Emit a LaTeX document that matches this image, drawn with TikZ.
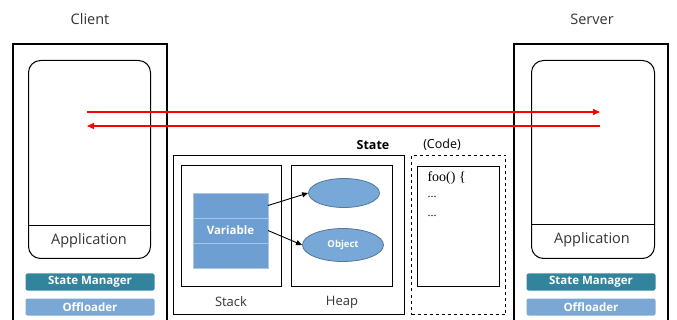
\documentclass[tikz,border=0pt]{standalone}
\usepackage{fontspec}
\setmainfont{Open Sans}
\newfontfamily\codefont{Liberation Serif}
\usetikzlibrary{arrows.meta,positioning,calc,shapes.geometric}
\definecolor{smteal}{HTML}{31849B}
\definecolor{offblue}{HTML}{7BA7D4}
\definecolor{varblue}{HTML}{6E9FD2}
\definecolor{objblue}{HTML}{78A8D8}
\definecolor{msgred}{HTML}{FF0000}
\tikzset{
  host/.style={draw,line width=1.4pt},
  appbox/.style={draw,line width=1pt,rounded corners=12pt,minimum width=#1,minimum height=198pt,anchor=north west,inner sep=0pt},
  bar/.style={rounded corners=2pt,fill=#1,minimum width=129pt,minimum height=17pt,inner sep=0pt,text=white,font=\fontsize{11.5}{13}\selectfont\bfseries},
  frame/.style={draw,line width=1pt,anchor=north west,inner sep=0pt},
  cell/.style={draw=varblue!60!white,fill=varblue,minimum width=75pt,minimum height=25pt,inner sep=0pt,line width=0.8pt,outer sep=0pt},
  obj/.style={ellipse,draw=objblue!70!black,fill=objblue,line width=0.8pt,inner sep=0pt},
  msg/.style={draw=msgred,line width=1.3pt,-{Triangle[length=7pt,width=6pt]}},
  ptr/.style={line width=0.9pt,-{Triangle[length=6pt,width=5pt]}},
  lbl/.style={text=black!80,font=\fontsize{13}{15}\selectfont},
}
\begin{document}
\begin{tikzpicture}[x=1pt,y=-1pt]
 \useasboundingbox (0,0) rectangle (677,320);
 % ---- client
 \node[lbl,font=\fontsize{14.5}{16}\selectfont] (clientlbl) at (90,19) {Client};
 \draw[host] (13,321) |- (167,44) -- (167,321);
 \node[appbox=122pt] (capp) at (28,60) {};
 \draw[line width=1pt] (28,226) -- (150,226);
 \node[lbl,font=\fontsize{14.5}{16}\selectfont] (capptxt) at (89,241) {Application};
 \node[bar=smteal] (csm) at (90,282) {State Manager};
 \node[bar=offblue] (coff) at (90,307) {Offloader};
 % ---- server
 \node[lbl,font=\fontsize{14.5}{16}\selectfont] (serverlbl) at (592,19) {Server};
 \draw[host] (514,321) |- (668,44) -- (668,321);
 \node[appbox=123pt] (sapp) at (531,60) {};
 \draw[line width=1pt] (531,225) -- (654,225);
 \node[lbl,font=\fontsize{14.5}{16}\selectfont] (sapptxt) at (592,240) {Application};
 \node[bar=smteal] (ssm) at (591,282) {State Manager};
 \node[bar=offblue] (soff) at (591,307) {Offloader};
 % ---- offload / return
 \coordinate (cout) at (87,112); \coordinate (sin) at (600,112);
 \coordinate (sout) at (600,126); \coordinate (cin) at (87,126);
 \draw[msg] (cout) -- (sin);
 \draw[msg] (sout) -- (cin);
 % ---- state
 \node[frame,minimum width=231pt,minimum height=159pt] (state) at (173,155) {};
 \node[lbl,font=\fontsize{12.5}{14}\selectfont\bfseries,text=black] (statelbl) at (373,145) {State};
 \node[frame,minimum width=100pt,minimum height=121pt] (stack) at (181,165) {};
 \node[frame,minimum width=101pt,minimum height=121pt] (heap) at (291,165) {};
 \node[lbl] (stacklbl) at (231,302) {Stack};
 \node[lbl] (heaplbl) at (342,302) {Heap};
 \node[cell] (v1) at (230.5,205.5) {};
 \node[cell,below=0pt of v1,text=white,font=\fontsize{11.5}{13}\selectfont\bfseries] (v2) {Variable};
 \node[cell,below=0pt of v2] (v3) {};
 \node[obj,minimum width=71pt,minimum height=29pt] (o1) at (344,193) {};
 \node[obj,minimum width=81pt,minimum height=33pt,text=white,font=\fontsize{9.5}{11}\selectfont\bfseries] (o2) at (343,245) {Object};
 \draw[ptr] (v1.east) -- (o1.west);
 \draw[ptr] (v2.east) -- (o2.west);
 % ---- code
 \node[frame,dashed,minimum width=94pt,minimum height=159pt] (code) at (411,155) {};
 \node[lbl,font=\fontsize{12.5}{14}\selectfont,text=black] (codelbl) at (442,145) {(Code)};
 \node[frame,minimum width=82pt,minimum height=120pt] (codebody) at (417,166) {};
 \node[anchor=west,font=\codefont\fontsize{14}{16}\selectfont] (foo) at (424,178) {foo() \{};
 \node[anchor=west,font=\codefont\fontsize{12}{14}\selectfont] (dots1) at (424,197) {...};
 \node[anchor=west,font=\codefont\fontsize{12}{14}\selectfont] (dots2) at (424,216) {...};
\end{tikzpicture}
\end{document}
